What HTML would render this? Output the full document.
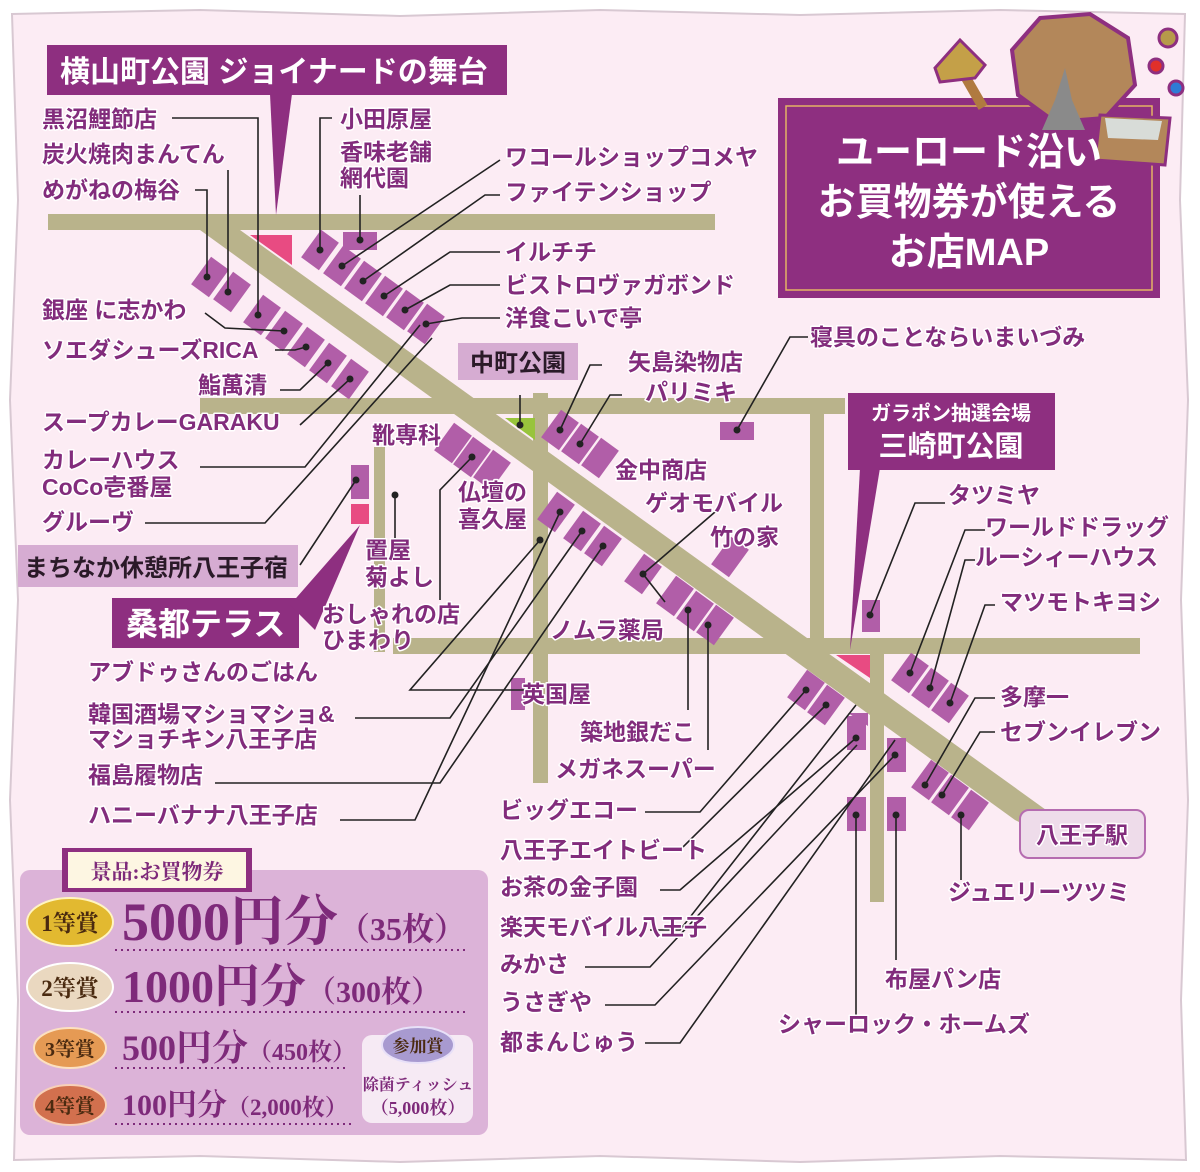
<!DOCTYPE html>
<html><head><meta charset="utf-8"><style>
html,body{margin:0;padding:0;background:#fff;}
svg{display:block;}
.t{font-family:"Liberation Sans","Noto Sans CJK JP",sans-serif;font-weight:bold;fill:#822c7c;font-size:23px;paint-order:stroke;stroke:#fff;stroke-width:3px;stroke-linejoin:round;}
.s{fill:#b15ea8;}
.l{stroke:#222;stroke-width:1.6;fill:none;}
.w{font-family:"Liberation Sans","Noto Sans CJK JP",sans-serif;font-weight:bold;fill:#fff;}
.d{font-family:"Liberation Sans","Noto Sans CJK JP",sans-serif;font-weight:bold;fill:#2a1a28;}
.m{font-family:"Liberation Serif","Noto Serif CJK SC",serif;font-weight:bold;fill:#7e2a7a;}
</style></head><body>
<svg width="1200" height="1172" viewBox="0 0 1200 1172" xmlns="http://www.w3.org/2000/svg">
<rect width="1200" height="1172" fill="#fff"/>
<path d="M12 14 L200 10 L400 16 L600 10 L800 15 L1000 10 L1185 14 L1180 200 L1188 400 L1181 600 L1188 800 L1181 1000 L1186 1160 L1000 1156 L800 1162 L600 1156 L400 1162 L200 1156 L14 1160 L18 1000 L10 800 L18 600 L10 400 L18 200 Z" fill="#fcecf4" stroke="#d8c8d2" stroke-width="2"/>
<!-- roads -->
<g fill="#b9b38b">
<rect x="48" y="214" width="667" height="16"/>
<polygon points="200,230 240,230 1060,820 1035,830 1015,820"/>
<rect x="200" y="398" width="645" height="16"/>
<rect x="393" y="638" width="747" height="16"/>
<rect x="533" y="393" width="15" height="390"/>
<rect x="374" y="447" width="11" height="205"/>
<rect x="810" y="410" width="14" height="240"/>
<rect x="870" y="650" width="14" height="252"/>
</g>
<!-- header top-left -->
<rect x="47" y="45" width="460" height="50" fill="#8e2f80"/>
<polygon points="270,94 292,94 276,215" fill="#8e2f80"/>
<text x="60" y="82" class="w" font-size="30">横山町公園 ジョイナードの舞台</text>
<polygon points="250,235 292,235 292,265" fill="#e84b82"/>
<!-- title box -->
<rect x="778" y="98" width="382" height="200" fill="#8e2f80"/>
<rect x="786" y="106" width="366" height="184" fill="none" stroke="#e3b464" stroke-width="1.5"/>
<!-- decoration -->
<polygon points="1040,18 1090,14 1128,38 1135,85 1105,118 1055,122 1018,95 1012,50" fill="#b3875a" stroke="#8e2f80" stroke-width="4"/>
<polygon points="1055,100 1065,68 1072,100 1085,130 1042,130" fill="#8a8a8a"/>
<polygon points="1100,115 1170,118 1165,165 1095,160" fill="#b3875a" stroke="#8e2f80" stroke-width="3"/>
<polygon points="1105,118 1162,121 1158,140 1108,138" fill="#d8dcd8"/>
<rect x="968" y="68" width="10" height="42" fill="#b07a40" transform="rotate(-30 973 90)"/>
<polygon points="935,68 960,40 985,65 975,78 940,82" fill="#c4a048" stroke="#8e2f80" stroke-width="3"/>
<circle cx="1168" cy="38" r="9" fill="#b69a4a" stroke="#8e2f80" stroke-width="3"/>
<circle cx="1156" cy="66" r="7" fill="#e0302a" stroke="#8e2f80" stroke-width="3"/>
<circle cx="1176" cy="88" r="7" fill="#2e7bd6" stroke="#8e2f80" stroke-width="3"/>
<text x="969" y="165" class="w" font-size="38" text-anchor="middle">ユーロード沿い</text>
<text x="969" y="215" class="w" font-size="38" text-anchor="middle">お買物券が使える</text>
<text x="969" y="265" class="w" font-size="38" text-anchor="middle">お店MAP</text>
<!-- shops -->
<g class="s">
<g transform="translate(210,277) rotate(36)"><rect x="-11" y="-17" width="22" height="34"/></g>
<g transform="translate(232,292) rotate(36)"><rect x="-11" y="-17" width="22" height="34"/></g>
<g transform="translate(262,315) rotate(36)"><rect x="-11" y="-17" width="22" height="34"/></g>
<g transform="translate(284,331) rotate(36)"><rect x="-11" y="-17" width="22" height="34"/></g>
<g transform="translate(306,347) rotate(36)"><rect x="-11" y="-17" width="22" height="34"/></g>
<g transform="translate(328,363) rotate(36)"><rect x="-11" y="-17" width="22" height="34"/></g>
<g transform="translate(350,379) rotate(36)"><rect x="-11" y="-17" width="22" height="34"/></g>
<g transform="translate(320,250) rotate(36)"><rect x="-11" y="-17" width="22" height="34"/></g>
<g transform="translate(342,266) rotate(36)"><rect x="-11" y="-17" width="22" height="34"/></g>
<g transform="translate(363,281) rotate(36)"><rect x="-11" y="-17" width="22" height="34"/></g>
<g transform="translate(384,296) rotate(36)"><rect x="-11" y="-17" width="22" height="34"/></g>
<g transform="translate(405,310) rotate(36)"><rect x="-11" y="-17" width="22" height="34"/></g>
<g transform="translate(426,324) rotate(36)"><rect x="-11" y="-17" width="22" height="34"/></g>
<rect x="343" y="232" width="34" height="18"/>
<g transform="translate(453,443) rotate(36)"><rect x="-11" y="-17" width="22" height="34"/></g>
<g transform="translate(472,457) rotate(36)"><rect x="-11" y="-17" width="22" height="34"/></g>
<g transform="translate(492,470) rotate(36)"><rect x="-11" y="-17" width="22" height="34"/></g>
<g transform="translate(560,430) rotate(36)"><rect x="-11" y="-17" width="22" height="34"/></g>
<g transform="translate(580,444) rotate(36)"><rect x="-11" y="-17" width="22" height="34"/></g>
<g transform="translate(600,458) rotate(36)"><rect x="-11" y="-17" width="22" height="34"/></g>
<g transform="translate(556,512) rotate(36)"><rect x="-11" y="-17" width="22" height="34"/></g>
<g transform="translate(582,531) rotate(36)"><rect x="-11" y="-17" width="22" height="34"/></g>
<g transform="translate(603,546) rotate(36)"><rect x="-11" y="-17" width="22" height="34"/></g>
<g transform="translate(643,574) rotate(36)"><rect x="-11" y="-17" width="22" height="34"/></g>
<g transform="translate(675,596) rotate(36)"><rect x="-11" y="-17" width="22" height="34"/></g>
<g transform="translate(695,611) rotate(36)"><rect x="-11" y="-17" width="22" height="34"/></g>
<g transform="translate(715,625) rotate(36)"><rect x="-11" y="-17" width="22" height="34"/></g>
<g transform="translate(730,557) rotate(36)"><rect x="-11" y="-17" width="22" height="34"/></g>
<rect x="720" y="422" width="34" height="18"/>
<rect x="351" y="465" width="18" height="34"/>
<rect x="862" y="600" width="18" height="32"/>
<g transform="translate(806,690) rotate(36)"><rect x="-11" y="-17" width="22" height="34"/></g>
<g transform="translate(826,705) rotate(36)"><rect x="-11" y="-17" width="22" height="34"/></g>
<rect x="847" y="716" width="19" height="34"/>
<rect x="887" y="738" width="19" height="34"/>
<rect x="847" y="797" width="19" height="34"/>
<rect x="887" y="797" width="19" height="34"/>
<rect x="511" y="678" width="14" height="32"/>
<g transform="translate(910,673) rotate(36)"><rect x="-11" y="-17" width="22" height="34"/></g>
<g transform="translate(930,688) rotate(36)"><rect x="-11" y="-17" width="22" height="34"/></g>
<g transform="translate(950,703) rotate(36)"><rect x="-11" y="-17" width="22" height="34"/></g>
<g transform="translate(930,780) rotate(36)"><rect x="-11" y="-17" width="22" height="34"/></g>
<g transform="translate(950,795) rotate(36)"><rect x="-11" y="-17" width="22" height="34"/></g>
<g transform="translate(970,810) rotate(36)"><rect x="-11" y="-17" width="22" height="34"/></g>
</g>
<rect x="351" y="504" width="18" height="20" fill="#e84b82"/>
<polygon points="836,655 870,655 870,678" fill="#e84b82"/>
<polygon points="848,713 868,713 868,726" fill="#b15ea8"/>
<polygon points="505,418 535,418 535,440" fill="#98c43c"/>
<!-- leader lines -->
<g class="l">
<polyline points="172,118 258,118 258,315"/>
<polyline points="228,170 228,292"/>
<polyline points="195,190 207,190 207,277"/>
<polyline points="332,118 320,118 320,250"/>
<polyline points="360,195 360,240"/>
<polyline points="500,160 342,266"/>
<polyline points="500,195 485,195 363,281"/>
<polyline points="500,252 450,252 384,296"/>
<polyline points="500,285 450,285 405,310"/>
<polyline points="500,318 462,318 426,324"/>
<polyline points="205,313 225,328 284,331"/>
<polyline points="275,350 295,350 306,347"/>
<polyline points="280,390 300,390 328,363"/>
<polyline points="300,425 350,379"/>
<polyline points="200,467 305,467 420,325"/>
<polyline points="145,523 265,523 432,338"/>
<polyline points="300,565 356,480"/>
<polyline points="395,495 395,548"/>
<polyline points="440,600 440,490 472,457"/>
<polyline points="602,365 590,365 560,430"/>
<polyline points="622,395 610,395 580,444"/>
<polyline points="808,337 790,337 737,430"/>
<polyline points="535,690 410,690 540,540"/>
<polyline points="355,718 450,718 582,531"/>
<polyline points="215,783 440,783 603,546"/>
<polyline points="340,820 415,820 560,512"/>
<polyline points="665,602 643,574"/>
<polyline points="688,710 688,610"/>
<polyline points="708,750 708,625"/>
<polyline points="715,512 643,574"/>
<polyline points="945,503 915,503 870,615"/>
<polyline points="985,530 965,530 910,673"/>
<polyline points="975,560 965,560 930,688"/>
<polyline points="995,605 985,605 950,703"/>
<polyline points="995,698 975,698 925,785"/>
<polyline points="995,732 980,732 942,795"/>
<polyline points="961,880 961,815"/>
<polyline points="645,812 700,812 806,690"/>
<polyline points="668,850 680,850 826,705"/>
<polyline points="660,890 680,890 856,738"/>
<polyline points="650,930 680,930 856,705"/>
<polyline points="585,967 650,967 857,745"/>
<polyline points="605,1005 655,1005 895,755"/>
<polyline points="645,1043 680,1043 895,740"/>
<polyline points="896,960 896,815"/>
<polyline points="856,1015 856,815"/>
<polyline points="520,395 520,425"/>
</g>
<g fill="#222">
<circle cx="258" cy="315" r="3.5"/><circle cx="228" cy="292" r="3.5"/><circle cx="207" cy="277" r="3.5"/>
<circle cx="320" cy="250" r="3.5"/><circle cx="360" cy="240" r="3.5"/><circle cx="342" cy="266" r="3.5"/>
<circle cx="363" cy="281" r="3.5"/><circle cx="384" cy="296" r="3.5"/><circle cx="405" cy="310" r="3.5"/>
<circle cx="426" cy="324" r="3.5"/><circle cx="284" cy="331" r="3.5"/><circle cx="306" cy="347" r="3.5"/>
<circle cx="328" cy="363" r="3.5"/><circle cx="350" cy="379" r="3.5"/><circle cx="356" cy="480" r="3.5"/>
<circle cx="395" cy="495" r="3.5"/><circle cx="472" cy="457" r="3.5"/><circle cx="560" cy="430" r="3.5"/>
<circle cx="580" cy="444" r="3.5"/><circle cx="737" cy="430" r="3.5"/><circle cx="540" cy="540" r="3.5"/>
<circle cx="582" cy="531" r="3.5"/><circle cx="603" cy="546" r="3.5"/><circle cx="560" cy="512" r="3.5"/>
<circle cx="643" cy="574" r="3.5"/><circle cx="688" cy="610" r="3.5"/><circle cx="708" cy="625" r="3.5"/>
<circle cx="870" cy="615" r="3.5"/><circle cx="910" cy="673" r="3.5"/><circle cx="930" cy="688" r="3.5"/>
<circle cx="950" cy="703" r="3.5"/><circle cx="925" cy="785" r="3.5"/><circle cx="942" cy="795" r="3.5"/>
<circle cx="961" cy="815" r="3.5"/><circle cx="806" cy="690" r="3.5"/><circle cx="826" cy="705" r="3.5"/>
<circle cx="856" cy="738" r="3.5"/><circle cx="895" cy="755" r="3.5"/><circle cx="896" cy="815" r="3.5"/>
<circle cx="856" cy="815" r="3.5"/><circle cx="520" cy="425" r="3.5"/>
</g>
<!-- park boxes -->
<rect x="458" y="343" width="120" height="37" fill="#d6acd2"/>
<text x="518" y="371" class="d" font-size="24" text-anchor="middle">中町公園</text>
<rect x="848" y="393" width="207" height="77" fill="#8e2f80"/>
<polygon points="860,468 880,468 850,650" fill="#8e2f80"/>
<text x="951" y="420" class="w" font-size="20" text-anchor="middle">ガラポン抽選会場</text>
<text x="951" y="456" class="w" font-size="29" text-anchor="middle">三崎町公園</text>
<rect x="18" y="545" width="280" height="42" fill="#d6acd2"/>
<text x="24" y="576" class="d" font-size="24">まちなか休憩所八王子宿</text>
<rect x="112" y="598" width="187" height="50" fill="#8e2f80"/>
<polygon points="290,605 360,525 315,630" fill="#8e2f80"/>
<text x="126" y="635" class="w" font-size="32">桑都テラス</text>
<rect x="1020" y="810" width="125" height="48" rx="9" fill="#eedcea" stroke="#b56cb0" stroke-width="2"/>
<text x="1082" y="843" class="t" font-size="25" text-anchor="middle">八王子駅</text>
<!-- labels -->
<g class="t">
<text x="42" y="127">黒沼鯉節店</text>
<text x="42" y="162">炭火焼肉まんてん</text>
<text x="42" y="198">めがねの梅谷</text>
<text x="340" y="127">小田原屋</text>
<text x="340" y="160">香味老舗</text>
<text x="340" y="186">網代園</text>
<text x="505" y="165">ワコールショップコメヤ</text>
<text x="505" y="200">ファイテンショップ</text>
<text x="505" y="260">イルチチ</text>
<text x="505" y="293">ビストロヴァガボンド</text>
<text x="505" y="326">洋食こいで亭</text>
<text x="42" y="318">銀座 に志かわ</text>
<text x="42" y="358">ソエダシューズRICA</text>
<text x="198" y="393">鮨萬清</text>
<text x="42" y="430">スープカレーGARAKU</text>
<text x="372" y="443">靴専科</text>
<text x="42" y="468">カレーハウス</text>
<text x="42" y="495">CoCo壱番屋</text>
<text x="42" y="530">グルーヴ</text>
<text x="458" y="500">仏壇の</text>
<text x="458" y="527">喜久屋</text>
<text x="365" y="558">置屋</text>
<text x="365" y="585">菊よし</text>
<text x="322" y="622">おしゃれの店</text>
<text x="322" y="648">ひまわり</text>
<text x="628" y="370">矢島染物店</text>
<text x="645" y="400">パリミキ</text>
<text x="810" y="345">寝具のことならいまいづみ</text>
<text x="615" y="478">金中商店</text>
<text x="645" y="511">ゲオモバイル</text>
<text x="710" y="545">竹の家</text>
<text x="550" y="638">ノムラ薬局</text>
<text x="948" y="503">タツミヤ</text>
<text x="985" y="535">ワールドドラッグ</text>
<text x="975" y="565">ルーシィーハウス</text>
<text x="1000" y="610">マツモトキヨシ</text>
<text x="1000" y="705">多摩一</text>
<text x="1000" y="740">セブンイレブン</text>
<text x="522" y="702">英国屋</text>
<text x="580" y="740">築地銀だこ</text>
<text x="555" y="777">メガネスーパー</text>
<text x="88" y="680">アブドゥさんのごはん</text>
<text x="88" y="722">韓国酒場マショマショ&amp;</text>
<text x="88" y="747">マショチキン八王子店</text>
<text x="88" y="783">福島履物店</text>
<text x="88" y="823">ハニーバナナ八王子店</text>
<text x="500" y="818">ビッグエコー</text>
<text x="500" y="858">八王子エイトビート</text>
<text x="500" y="895">お茶の金子園</text>
<text x="500" y="935">楽天モバイル八王子</text>
<text x="500" y="972">みかさ</text>
<text x="500" y="1010">うさぎや</text>
<text x="500" y="1050">都まんじゅう</text>
<text x="948" y="900">ジュエリーツツミ</text>
<text x="885" y="987">布屋パン店</text>
<text x="778" y="1032">シャーロック・ホームズ</text>
</g>
<!-- prize box -->
<rect x="20" y="870" width="468" height="265" rx="10" fill="#dcb3d8"/>
<rect x="62" y="848" width="190" height="44" fill="#8e2f80"/>
<rect x="68" y="852" width="178" height="36" fill="#fdf6e2"/>
<text x="157" y="879" class="m" font-size="21" text-anchor="middle">景品:お買物券</text>
<g stroke="#7e2a7a" stroke-width="2" stroke-dasharray="2 4">
<line x1="115" y1="950" x2="468" y2="950"/>
<line x1="115" y1="1012" x2="468" y2="1012"/>
<line x1="115" y1="1068" x2="348" y2="1068"/>
<line x1="115" y1="1124" x2="352" y2="1124"/>
</g>
<ellipse cx="70" cy="922" rx="43" ry="24" fill="#e2b930" stroke="#fff5c0" stroke-width="2"/>
<ellipse cx="70" cy="987" rx="43" ry="24" fill="#ead8c0" stroke="#fff" stroke-width="2"/>
<ellipse cx="70" cy="1048" rx="36" ry="20" fill="#e59a54" stroke="#fce0c0" stroke-width="2"/>
<ellipse cx="70" cy="1105" rx="36" ry="20" fill="#d2704e" stroke="#f8d0b8" stroke-width="2"/>
<g class="m" style="fill:#4a2a10">
<text x="70" y="931" font-size="23" text-anchor="middle">1等賞</text>
<text x="70" y="996" font-size="23" text-anchor="middle">2等賞</text>
<text x="70" y="1056" font-size="20" text-anchor="middle">3等賞</text>
<text x="70" y="1113" font-size="20" text-anchor="middle">4等賞</text>
</g>
<text x="122" y="940" class="m" font-size="54">5000円分<tspan font-size="32">（35枚）</tspan></text>
<text x="122" y="1002" class="m" font-size="46">1000円分<tspan font-size="30">（300枚）</tspan></text>
<text x="122" y="1060" class="m" font-size="36">500円分<tspan font-size="24">（450枚）</tspan></text>
<text x="122" y="1115" class="m" font-size="30">100円分<tspan font-size="23">（2,000枚）</tspan></text>
<rect x="362" y="1035" width="111" height="88" rx="10" fill="#f6eaf4"/>
<ellipse cx="418" cy="1045" rx="36" ry="18" fill="#a89ad0" stroke="#e8e0f8" stroke-width="2"/>
<text x="418" y="1052" class="m" font-size="17" text-anchor="middle" style="fill:#4a2a10">参加賞</text>
<text x="418" y="1090" class="m" font-size="16" text-anchor="middle">除菌ティッシュ</text>
<text x="418" y="1114" class="m" font-size="18" text-anchor="middle">（5,000枚）</text>
</svg>
</body></html>
